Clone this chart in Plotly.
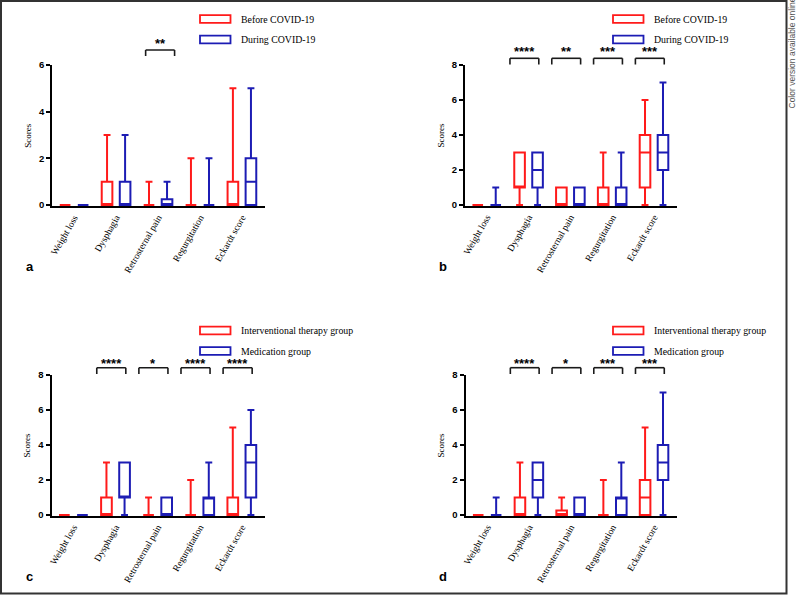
import plotly.graph_objects as go

# ---------------- data ----------------
categories = ["Weight loss", "Dysphagia", "Retrosternal pain", "Regurgitation", "Eckardt score"]

legend_ab = ["Before COVID-19", "During COVID-19"]
legend_cd = ["Interventional therapy group", "Medication group"]

# panel a
a_red_min = [0, 0, 0, 0, 0]
a_red_q1 = [0, 0, 0, 0, 0]
a_red_med = [0, 0, 0, 0, 0]
a_red_q3 = [0, 1, 0, 0, 1]
a_red_max = [0, 3, 1, 2, 5]
a_blue_min = [0, 0, 0, 0, 0]
a_blue_q1 = [0, 0, 0, 0, 0]
a_blue_med = [0, 0, 0, 0, 1]
a_blue_q3 = [0, 1, 0.25, 0, 2]
a_blue_max = [0, 3, 1, 2, 5]
a_sig = ["", "", "**", "", ""]

# panel b
b_red_min = [0, 0, 0, 0, 0]
b_red_q1 = [0, 1, 0, 0, 1]
b_red_med = [0, 1, 0, 0, 3]
b_red_q3 = [0, 3, 1, 1, 4]
b_red_max = [0, 3, 1, 3, 6]
b_blue_min = [0, 0, 0, 0, 0]
b_blue_q1 = [0, 1, 0, 0, 2]
b_blue_med = [0, 2, 0, 0, 3]
b_blue_q3 = [0, 3, 1, 1, 4]
b_blue_max = [1, 3, 1, 3, 7]
b_sig = ["", "****", "**", "***", "***"]

# panel c
c_red_min = [0, 0, 0, 0, 0]
c_red_q1 = [0, 0, 0, 0, 0]
c_red_med = [0, 0, 0, 0, 0]
c_red_q3 = [0, 1, 0, 0, 1]
c_red_max = [0, 3, 1, 2, 5]
c_blue_min = [0, 0, 0, 0, 0]
c_blue_q1 = [0, 1, 0, 0, 1]
c_blue_med = [0, 1, 0, 1, 3]
c_blue_q3 = [0, 3, 1, 1, 4]
c_blue_max = [0, 3, 1, 3, 6]
c_sig = ["", "****", "*", "****", "****"]

# panel d
d_red_min = [0, 0, 0, 0, 0]
d_red_q1 = [0, 0, 0, 0, 0]
d_red_med = [0, 0, 0, 0, 1]
d_red_q3 = [0, 1, 0.25, 0, 2]
d_red_max = [0, 3, 1, 2, 5]
d_blue_min = [0, 0, 0, 0, 0]
d_blue_q1 = [0, 1, 0, 0, 2]
d_blue_med = [0, 2, 0, 1, 3]
d_blue_q3 = [0, 3, 1, 1, 4]
d_blue_max = [1, 3, 1, 3, 7]
d_sig = ["", "****", "*", "***", "***"]

y_max = [6, 8, 8, 8]
panel_letters = ["a", "b", "c", "d"]

# ---------------- layout helpers ----------------
W, H = 797, 595
RED = "#ff1a1a"
BLUE = "#1c1cb4"
SERIF = "Liberation Serif, Times New Roman, serif"
SANS = "Liberation Sans, Arial, sans-serif"


def px(x):
    return x / W


def py(y):
    return 1 - y / H


YPAD = 0.06
# pixel geometry of each panel: axis left, axis right, top(ymax), bottom(y=0)
geom = [
    dict(l=52.3, r=265, t=65, b=205, bt=50, bb=56, st=40.7, off=0.05,
         lx=200, ly=19, lx2=239, letter=(29.5, 266)),
    dict(l=465, r=677, t=65, b=205, bt=58.3, bb=64.5, st=48.3, off=-0.1,
         lx=613, ly=19, lx2=652, letter=(443.5, 266)),
    dict(l=51.5, r=265, t=375, b=515, bt=367.7, bb=374, st=360, off=-0.1,
         lx=200, ly=330.5, lx2=239, letter=(29.5, 576)),
    dict(l=465.5, r=677, t=375, b=515, bt=367.7, bb=374, st=360, off=-0.1,
         lx=613, ly=330.5, lx2=652, letter=(443.5, 576)),
]

panel_data = [
    ((a_red_min, a_red_q1, a_red_med, a_red_q3, a_red_max),
     (a_blue_min, a_blue_q1, a_blue_med, a_blue_q3, a_blue_max), a_sig, legend_ab),
    ((b_red_min, b_red_q1, b_red_med, b_red_q3, b_red_max),
     (b_blue_min, b_blue_q1, b_blue_med, b_blue_q3, b_blue_max), b_sig, legend_ab),
    ((c_red_min, c_red_q1, c_red_med, c_red_q3, c_red_max),
     (c_blue_min, c_blue_q1, c_blue_med, c_blue_q3, c_blue_max), c_sig, legend_cd),
    ((d_red_min, d_red_q1, d_red_med, d_red_q3, d_red_max),
     (d_blue_min, d_blue_q1, d_blue_med, d_blue_q3, d_blue_max), d_sig, legend_cd),
]

fig = go.Figure()
shapes = []
annotations = []
layout_axes = {}

for i, (red, blue, sig, legnames) in enumerate(panel_data):
    n = i + 1
    xa = "x" if n == 1 else f"x{n}"
    ya = "y" if n == 1 else f"y{n}"
    g = geom[i]
    ym = y_max[i]
    bottom_px = g["b"] + YPAD * (g["b"] - g["t"]) / ym

    for stats, color, name, grp in ((red, RED, legnames[0], "g1"), (blue, BLUE, legnames[1], "g2")):
        mn, q1, med, q3, mx = stats
        fig.add_trace(go.Box(
            x=categories, q1=q1, median=med, q3=q3, lowerfence=mn, upperfence=mx,
            name=name, offsetgroup=grp, xaxis=xa, yaxis=ya,
            line=dict(color=color, width=2), fillcolor="rgba(0,0,0,0)",
            whiskerwidth=0.65, boxpoints=False, showlegend=False, hoverinfo="skip",
        ))

    layout_axes["xaxis" if n == 1 else f"xaxis{n}"] = dict(
        domain=[px(g["l"]), px(g["r"])], anchor=ya, type="category",
        categoryorder="array", categoryarray=categories,
        range=[-0.52, 4.55], showline=True, linecolor="black", linewidth=2,
        ticks="", tickangle=-60, showgrid=False, zeroline=False,
        tickfont=dict(family=SERIF, size=9.5, color="black"),
        layer="below traces", fixedrange=True, automargin=False,
    )
    layout_axes["yaxis" if n == 1 else f"yaxis{n}"] = dict(
        domain=[py(bottom_px), py(g["t"])], anchor=xa,
        range=[-YPAD, ym], tick0=0, dtick=2, showline=True, linecolor="black",
        linewidth=2, ticks="outside", ticklen=4, tickwidth=2, tickcolor="black",
        showgrid=False, zeroline=False,
        tickfont=dict(family=SANS, size=9.5, color="black", weight="bold"),
        title=dict(text="Scores", font=dict(family=SERIF, size=9, color="black"), standoff=6),
        layer="below traces", fixedrange=True, automargin=False,
    )

    # significance brackets
    for k, s in enumerate(sig):
        if not s:
            continue
        c = k + g["off"]
        hw = 0.345
        for (x0, y0, x1, y1) in ((c - hw, g["bt"], c + hw, g["bt"]),
                                 (c - hw, g["bt"], c - hw, g["bb"]),
                                 (c + hw, g["bt"], c + hw, g["bb"])):
            shapes.append(dict(type="line", xref=xa, yref="paper",
                               x0=x0, x1=x1, y0=py(y0), y1=py(y1),
                               line=dict(color="#1a1a1a", width=1.6)))
        annotations.append(dict(text=s, xref=xa, yref="paper", x=c, y=py(g["st"] + 3),
                                xanchor="center", yanchor="middle", showarrow=False,
                                font=dict(family=SANS, size=13, color="black", weight="bold")))

    # legend (manual)
    for j, (color, name) in enumerate(((RED, legnames[0]), (BLUE, legnames[1]))):
        cy = g["ly"] + j * 20.5
        shapes.append(dict(type="rect", xref="paper", yref="paper",
                           x0=px(g["lx"]), x1=px(g["lx"] + 30.5),
                           y0=py(cy + 3.8), y1=py(cy - 3.8),
                           line=dict(color=color, width=1.8), fillcolor="rgba(0,0,0,0)"))
        annotations.append(dict(text=name, xref="paper", yref="paper",
                                x=px(g["lx2"]), y=py(cy), xanchor="left", yanchor="middle",
                                showarrow=False,
                                font=dict(family=SERIF, size=9.8, color="black")))

    # panel letter
    lx, ly = g["letter"]
    annotations.append(dict(text=panel_letters[i], xref="paper", yref="paper",
                            x=px(lx), y=py(ly), xanchor="center", yanchor="middle",
                            showarrow=False,
                            font=dict(family=SANS, size=13, color="black", weight="bold")))

# outer frame
shapes.append(dict(type="rect", xref="paper", yref="paper",
                   x0=px(1), x1=px(786.5), y0=py(593.5), y1=py(1),
                   line=dict(color="#333333", width=2), fillcolor="rgba(0,0,0,0)"))

annotations.append(dict(text="Color version available online", xref="paper", yref="paper",
                        x=px(797), y=py(110), xanchor="right", yanchor="bottom",
                        textangle=-90, showarrow=False, borderpad=0,
                        font=dict(family=SANS, size=8.5, color="#555555")))

fig.update_layout(
    template="none",
    width=W, height=H, margin=dict(l=0, r=0, t=0, b=0, autoexpand=False),
    paper_bgcolor="white", plot_bgcolor="white",
    boxmode="group", boxgap=0.14, boxgroupgap=0.41,
    shapes=shapes, annotations=annotations, showlegend=False,
    **layout_axes,
)

fig.write_html("out.html", config={"displayModeBar": False},
               post_script="document.body.style.margin='0px';")
